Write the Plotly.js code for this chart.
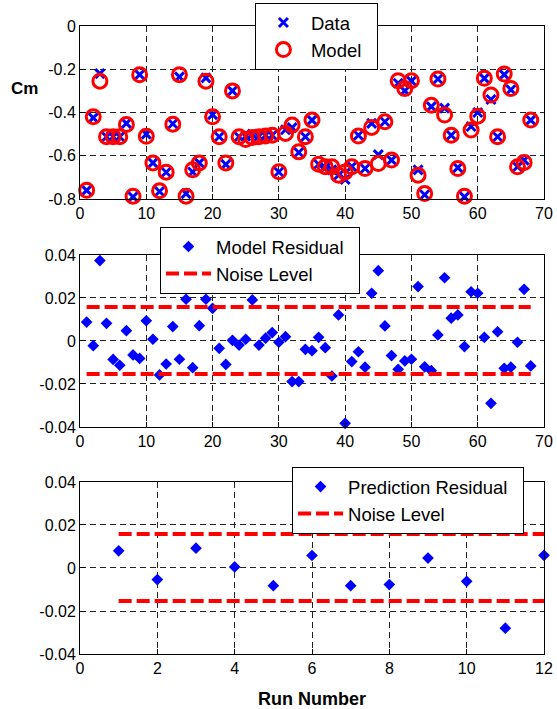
<!DOCTYPE html>
<html>
<head>
<meta charset="utf-8">
<script src="https://cdn.plot.ly/plotly-3.0.1.min.js"></script>
<style>html,body{margin:0;padding:0;background:#fff;}#chart{width:557px;height:709px;}</style>
</head>
<body>
<div id="chart"></div>
<script>
// ---- data ----
const runs = Array.from({length: 68}, (_, i) => i + 1);
const cmData = [-0.76,-0.425,-0.22,-0.512,-0.512,-0.512,-0.45,-0.79,-0.225,-0.50,
  -0.633,-0.765,-0.676,-0.452,-0.235,-0.775,-0.675,-0.633,-0.24,-0.41,
  -0.512,-0.64,-0.30,-0.512,-0.51,-0.50,-0.51,-0.505,-0.505,-0.675,
  -0.48,-0.47,-0.585,-0.512,-0.435,-0.639,-0.655,-0.665,-0.69,-0.71,
  -0.65,-0.505,-0.659,-0.45,-0.595,-0.443,-0.62,-0.265,-0.30,-0.255,
  -0.665,-0.78,-0.373,-0.245,-0.38,-0.505,-0.655,-0.79,-0.465,-0.40,
  -0.242,-0.34,-0.512,-0.225,-0.295,-0.651,-0.62,-0.435];
const cmModel = [-0.76,-0.42,-0.255,-0.512,-0.512,-0.512,-0.455,-0.787,-0.225,-0.51,
  -0.633,-0.762,-0.676,-0.454,-0.225,-0.787,-0.665,-0.633,-0.255,-0.42,
  -0.512,-0.633,-0.30,-0.512,-0.525,-0.515,-0.512,-0.509,-0.505,-0.674,
  -0.497,-0.458,-0.582,-0.512,-0.435,-0.639,-0.651,-0.651,-0.69,-0.675,
  -0.651,-0.509,-0.659,-0.469,-0.636,-0.443,-0.62,-0.253,-0.289,-0.253,
  -0.69,-0.775,-0.366,-0.245,-0.412,-0.505,-0.659,-0.787,-0.481,-0.417,
  -0.242,-0.319,-0.512,-0.222,-0.289,-0.651,-0.631,-0.435];
const modelResidual = [0.0088,-0.0022,0.0374,0.0082,-0.0086,-0.0113,0.0048,-0.0065,-0.0081,0.0094,
  0.0008,-0.0158,-0.0107,0.0067,-0.0085,0.0194,-0.0124,0.0071,0.0194,0.0152,
  -0.0034,-0.0109,0.0003,-0.0019,0.0008,0.0191,-0.0019,0.0013,0.0039,-0.0006,
  0.002,-0.0189,-0.0189,-0.0039,-0.0045,0.0017,-0.0031,-0.0163,0.0121,-0.0383,
  -0.0096,-0.005,-0.0122,0.0222,0.0327,0.007,-0.0068,-0.0132,-0.0093,-0.0085,
  0.0253,-0.012,-0.0138,0.0028,0.0294,0.0106,0.0121,-0.0026,0.0229,0.0222,
  0.0017,-0.029,0.0043,-0.0127,-0.0122,-0.0006,0.024,-0.0116];
const predRuns = [1,2,3,4,5,6,7,8,9,10,11,12];
const predResidual = [0.008,-0.0054,0.0092,0.0005,-0.0082,0.0058,-0.0082,-0.0077,0.0046,-0.0062,-0.028,0.0059];
const noiseUp = 0.0158;
const noiseLo = -0.0154;
const xTicks70 = [0,10,20,30,40,50,60,70];
const xTicks12 = [0,2,4,6,8,10,12];
const cmTickVals = [0,-0.2,-0.4,-0.6,-0.8];
const cmTickText = ['0','-0.2','-0.4','-0.6','-0.8'];
const resTickVals = [0.04,0.02,0,-0.02,-0.04];
const resTickText = ['0.04','0.02','0','-0.02','-0.04'];

// ---- traces ----
const FONT = 'Liberation Sans, Arial, sans-serif';
const blue = 'rgb(0,0,255)', red = 'rgb(255,0,0)';
const PAD = '\u00a0\u00a0';
const firstRun = runs[0], lastRun = runs[runs.length-1];
const pFirst = predRuns[0], pLast = predRuns[predRuns.length-1];

const traces = [
  {x: runs, y: cmData, type: 'scatter', mode: 'markers', name: 'Data', xaxis: 'x', yaxis: 'y',
   marker: {symbol: 'x-thin-open', size: 9, color: blue, line: {color: blue, width: 3}},
   cliponaxis: false, legend: 'legend'},
  {x: runs, y: cmModel, type: 'scatter', mode: 'markers', name: 'Model' + PAD, xaxis: 'x', yaxis: 'y',
   marker: {symbol: 'circle-open', size: 14, color: red, line: {color: red, width: 3}},
   cliponaxis: false, legend: 'legend'},
  {x: runs, y: modelResidual, type: 'scatter', mode: 'markers', name: 'Model Residual' + PAD, xaxis: 'x2', yaxis: 'y2',
   marker: {symbol: 'diamond', size: 9, color: blue}, cliponaxis: false, legend: 'legend2'},
  {x: [firstRun, lastRun, null, firstRun, lastRun], y: [noiseUp, noiseUp, null, noiseLo, noiseLo],
   type: 'scatter', mode: 'lines', name: 'Noise Level', xaxis: 'x2', yaxis: 'y2',
   line: {color: red, width: 4, dash: '13px,5px'}, legend: 'legend2'},
  {x: predRuns, y: predResidual, type: 'scatter', mode: 'markers', name: 'Prediction Residual' + PAD, xaxis: 'x3', yaxis: 'y3',
   marker: {symbol: 'diamond', size: 9, color: blue}, cliponaxis: false, legend: 'legend3'},
  {x: [pFirst, pLast, null, pFirst, pLast], y: [noiseUp, noiseUp, null, noiseLo, noiseLo],
   type: 'scatter', mode: 'lines', name: 'Noise Level', xaxis: 'x3', yaxis: 'y3',
   line: {color: red, width: 4, dash: '13px,5px'}, legend: 'legend3'}
];

const axBase = {
  showline: true, linecolor: 'black', linewidth: 1, mirror: true,
  ticks: 'inside', ticklen: 5, tickcolor: 'black',
  showgrid: true, gridcolor: '#222', gridwidth: 1, griddash: '6px,4px',
  zeroline: false, automargin: false, tickfont: {family: FONT, size: 16, color: 'black'}
};
function ax(extra) { return Object.assign({}, axBase, extra); }

const legBase = {bgcolor: 'white', bordercolor: 'black', borderwidth: 1,
  font: {family: FONT, size: 18.5, color: 'black'}, xanchor: 'left', yanchor: 'top',
  tracegroupgap: 0, itemwidth: 45};

const layout = {
  width: 557, height: 709,
  margin: {l: 80, r: 13, t: 26, b: 55, autoexpand: false},
  paper_bgcolor: 'white', plot_bgcolor: 'white',
  font: {family: FONT, color: 'black'},
  showlegend: true,
  xaxis: ax({domain: [0,1], range: [0,70], tickvals: xTicks70, anchor: 'y'}),
  yaxis: ax({domain: [0.7245, 1], range: [-0.8, 0], tickvals: cmTickVals, ticktext: cmTickText, anchor: 'x'}),
  xaxis2: ax({domain: [0,1], range: [0,70], tickvals: xTicks70, anchor: 'y2'}),
  yaxis2: ax({domain: [0.3615, 0.6354], range: [-0.04, 0.04], tickvals: resTickVals, ticktext: resTickText, anchor: 'x2'}),
  xaxis3: ax({domain: [0,1], range: [0,12], tickvals: xTicks12, anchor: 'y3',
    title: {text: '<b>Run Number</b>', font: {family: FONT, size: 18, color: 'black'}}}),
  yaxis3: ax({domain: [0, 0.2739], range: [-0.04, 0.04], tickvals: resTickVals, ticktext: resTickText, anchor: 'x3'}),
  legend: Object.assign({}, legBase, {x: 0.377, y: 1.0366}),
  legend2: Object.assign({}, legBase, {x: 0.1724, y: 0.68}),
  legend3: Object.assign({}, legBase, {x: 0.457, y: 0.2977}),
  annotations: [
    {text: '<b>Cm</b>', xref: 'paper', yref: 'paper', x: -0.12, y: 0.9, xanchor: 'center', yanchor: 'middle',
     showarrow: false, font: {family: FONT, size: 17, color: 'black'}}
  ]
};

Plotly.newPlot('chart', traces, layout, {displayModeBar: false, staticPlot: true});
</script>
</body>
</html>
